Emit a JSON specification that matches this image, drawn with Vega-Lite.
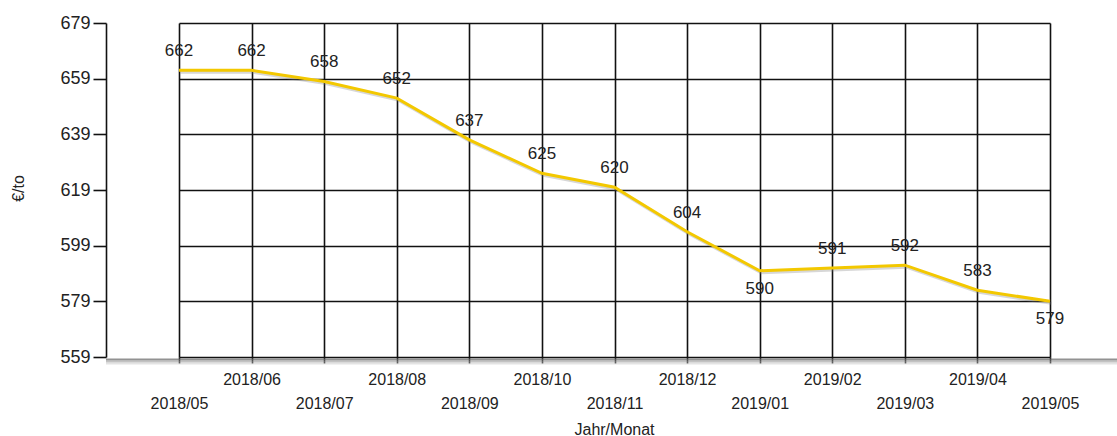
{
  "$schema": "https://vega.github.io/schema/vega-lite/v6.json",
  "autosize": {"type": "none"},
  "padding": {"left": 106, "top": 23, "right": 0, "bottom": 79},
  "width": 1011,
  "height": 334,
  "background": "white",
  "config": {"view": {"stroke": null}, "font": "Liberation Sans"},
  "data": {
    "values": [
      {"Monat": "2018/05", "Wert": 662},
      {"Monat": "2018/06", "Wert": 662},
      {"Monat": "2018/07", "Wert": 658},
      {"Monat": "2018/08", "Wert": 652},
      {"Monat": "2018/09", "Wert": 637},
      {"Monat": "2018/10", "Wert": 625},
      {"Monat": "2018/11", "Wert": 620},
      {"Monat": "2018/12", "Wert": 604},
      {"Monat": "2019/01", "Wert": 590},
      {"Monat": "2019/02", "Wert": 591},
      {"Monat": "2019/03", "Wert": 592},
      {"Monat": "2019/04", "Wert": 583},
      {"Monat": "2019/05", "Wert": 579}
    ]
  },
  "layer": [
    {
      "data": {"values": [{}]},
      "mark": {"type": "rule", "color": "#6e6e6e", "strokeWidth": 2, "opacity": 0.75, "yOffset": 2.5, "xOffset": 8},
      "encoding": {"y": {"datum": 559, "type": "quantitative"}}
    },
    {
      "data": {"values": [{}]},
      "mark": {"type": "rule", "color": "#9a9a9a", "strokeWidth": 2, "opacity": 0.6, "yOffset": 4.5, "xOffset": 8},
      "encoding": {"y": {"datum": 559, "type": "quantitative"}}
    },
    {
      "data": {"values": [{}]},
      "mark": {"type": "rule", "color": "#c8c8c8", "strokeWidth": 2, "opacity": 0.5, "yOffset": 6.5, "xOffset": 8},
      "encoding": {"y": {"datum": 559, "type": "quantitative"}}
    },
    {
      "encoding": {
        "x": {
          "field": "Monat",
          "type": "ordinal",
          "sort": null,
          "scale": {"type": "point", "range": [73, 944], "padding": 0},
          "axis": {
            "title": "Jahr/Monat",
            "titleX": 508,
            "titleY": 72,
            "titleBaseline": "middle",
            "titleAlign": "center",
            "titleFontSize": 16,
            "titleFontWeight": "normal",
            "titleColor": "#222",
            "grid": true,
            "gridColor": "#111",
            "gridWidth": 1.6,
            "domain": false,
            "ticks": true,
            "tickColor": "#111",
            "tickWidth": 1.6,
            "tickSize": 6,
            "labelAngle": 0,
            "labelBaseline": "top",
            "labelAlign": "center",
            "labelLineHeight": 24,
            "labelFontSize": 16,
            "labelColor": "#222",
            "labelPadding": 8,
            "labelOverlap": false,
            "labelBound": false,
            "labelExpr": "toNumber(slice(datum.value, 5)) % 2 == 0 ? datum.value : ['', datum.value]"
          }
        },
        "y": {
          "field": "Wert",
          "type": "quantitative",
          "scale": {"domain": [559, 679], "nice": false, "zero": false},
          "axis": {
            "values": [559, 579, 599, 619, 639, 659, 679],
            "title": "€/to",
            "titleAngle": -90,
            "titleX": -88,
            "titleY": 165,
            "titleAlign": "center",
            "titleBaseline": "middle",
            "titleFontSize": 16,
            "titleFontWeight": "normal",
            "titleColor": "#222",
            "grid": true,
            "gridColor": "#111",
            "gridWidth": 1.6,
            "domain": true,
            "domainColor": "#111",
            "domainWidth": 1.6,
            "tickColor": "#111",
            "tickWidth": 1.6,
            "tickSize": 13,
            "labelFontSize": 18,
            "labelColor": "#222",
            "labelPadding": 3
          }
        }
      },
      "layer": [
        {
          "mark": {"type": "line", "color": "#7a7a7a", "strokeWidth": 3, "opacity": 0.3, "xOffset": 1.5, "yOffset": 2}
        },
        {
          "mark": {"type": "line", "color": "#F3C800", "strokeWidth": 3}
        },
        {
          "transform": [{"filter": "datum.Monat != '2019/01' && datum.Monat != '2019/05'"}],
          "mark": {"type": "text", "fontSize": 17, "color": "#222", "baseline": "middle", "dy": -19},
          "encoding": {"text": {"field": "Wert", "type": "quantitative"}}
        },
        {
          "transform": [{"filter": "datum.Monat == '2019/01' || datum.Monat == '2019/05'"}],
          "mark": {"type": "text", "fontSize": 17, "color": "#222", "baseline": "middle", "dy": 18},
          "encoding": {"text": {"field": "Wert", "type": "quantitative"}}
        }
      ]
    }
  ]
}
